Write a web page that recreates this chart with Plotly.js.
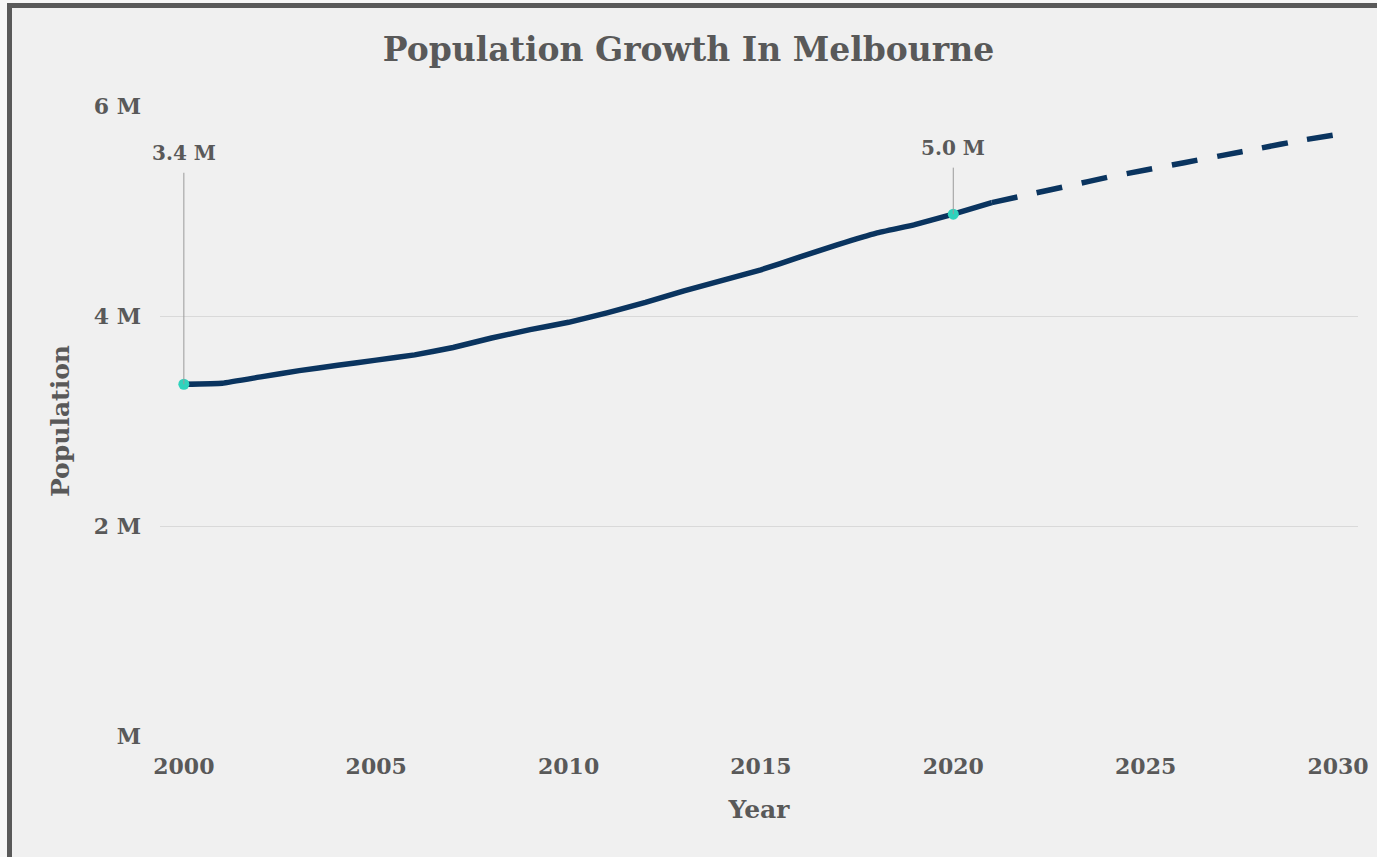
<!DOCTYPE html>
<html>
<head>
<meta charset="utf-8">
<script src="https://cdn.plot.ly/plotly-3.0.1.min.js"></script>
<style>
  html, body { margin: 0; padding: 0; background: #f6f6f6; }
  #chart { width: 1377px; height: 857px; }
</style>
</head>
<body>
<div id="chart"></div>
<script>
// ---- data ----
const actualYears = [2000, 2001, 2002, 2003, 2004, 2005, 2006, 2007, 2008, 2009, 2010,
                     2011, 2012, 2013, 2014, 2015, 2016, 2017, 2018, 2019, 2020, 2021];
const actualPop = [3.35, 3.36, 3.42, 3.48, 3.53, 3.58, 3.63, 3.70, 3.79, 3.87, 3.94,
                   4.03, 4.13, 4.24, 4.34, 4.44, 4.56, 4.68, 4.79, 4.87, 4.97, 5.08];
const projYears = [2021, 2022, 2023, 2024, 2025, 2026, 2027, 2028, 2029, 2030];
const projPop   = [5.08, 5.16, 5.24, 5.32, 5.39, 5.46, 5.53, 5.60, 5.67, 5.73];
const highlightYears = [2000, 2020];
const highlightPop   = [3.35, 4.97];
const highlightLabels = ["3.4 M", "5.0 M"];
const xTickVals = [2000, 2005, 2010, 2015, 2020, 2025, 2030];
const yTickVals = [0, 2, 4, 6];
const yTickText = ["M", "2 M", "4 M", "6 M"];

const FONT = "DejaVu Serif";
const TXT = "#595959";

// pixel helpers for frame shapes (plot area: x 160..1358, y 106..736)
const W = 1377, H = 857, L = 160, R = 19, T = 106, B = 121;
const pw = W - L - R, ph = H - T - B;
const px = v => (v - L) / pw;
const py = v => (H - B - v) / ph;

const traces = [
  { x: actualYears, y: actualPop, type: 'scatter', mode: 'lines',
    line: { color: '#0a345f', width: 5.5, shape: 'spline', smoothing: 0.3 },
    hoverinfo: 'x+y', showlegend: false },
  { x: projYears, y: projPop, type: 'scatter', mode: 'lines',
    line: { color: '#0a345f', width: 5.5, dash: '26px,20px', shape: 'spline', smoothing: 0.3 },
    hoverinfo: 'x+y', showlegend: false },
  { x: highlightYears, y: highlightPop, type: 'scatter', mode: 'markers',
    marker: { color: '#2fd3bd', size: 11 }, showlegend: false }
];

const annotations = highlightYears.map((yr, i) => ({
  x: yr, y: highlightPop[i], xref: 'x', yref: 'y',
  text: '<b>' + highlightLabels[i] + '</b>', showarrow: true, arrowhead: 0, arrowwidth: 1,
  arrowcolor: '#9a9a9a', ax: 0, ay: i === 0 ? -231 : -66,
  startstandoff: 6,
  font: { family: FONT, size: 20, color: TXT }
}));

const layout = {
  width: W, height: H,
  margin: { l: L, r: R, t: T, b: B },
  paper_bgcolor: '#f0f0f0', plot_bgcolor: '#f0f0f0',
  font: { family: FONT, color: TXT },
  title: { text: '<b>Population Growth In Melbourne</b>', x: 0.5, xanchor: 'center',
           y: 0.942, yanchor: 'middle',
           font: { family: FONT, size: 33, color: TXT } },
  xaxis: {
    range: [1999.38, 2030.52], tickvals: xTickVals, ticktext: xTickVals.map(String),
    showgrid: false, zeroline: false, showline: false, ticks: '',
    ticklabelstandoff: 15,
    tickfont: { family: FONT, size: 22, color: TXT, weight: 'bold' },
    title: { text: '<b>Year</b>', font: { family: FONT, size: 25, color: TXT }, standoff: 22 }
  },
  yaxis: {
    range: [0, 6], tickvals: yTickVals, ticktext: yTickText,
    showgrid: true, gridcolor: '#d9d9d9', gridwidth: 1, zeroline: false, showline: false,
    ticks: '', ticklabelstandoff: 18,
    tickfont: { family: FONT, size: 22, color: TXT, weight: 'bold' },
    title: { text: '<b>Population</b>', font: { family: FONT, size: 25, color: TXT }, standoff: 16 }
  },
  annotations: annotations,
  shapes: [
    { type: 'rect', xref: 'paper', yref: 'paper', x0: px(0), x1: px(7), y0: py(H), y1: py(0),
      fillcolor: '#f6f6f6', line: { width: 0 }, layer: 'below' },
    { type: 'rect', xref: 'paper', yref: 'paper', x0: px(0), x1: px(W), y0: py(3), y1: py(0),
      fillcolor: '#f6f6f6', line: { width: 0 }, layer: 'below' },
    { type: 'line', xref: 'paper', yref: 'paper', x0: px(9.5), x1: px(9.5), y0: py(H), y1: py(3),
      line: { color: '#595959', width: 5 } },
    { type: 'line', xref: 'paper', yref: 'paper', x0: px(7), x1: px(W), y0: py(5.5), y1: py(5.5),
      line: { color: '#595959', width: 5 } }
  ]
};

Plotly.newPlot('chart', traces, layout, { displayModeBar: false, staticPlot: true });
</script>
</body>
</html>
